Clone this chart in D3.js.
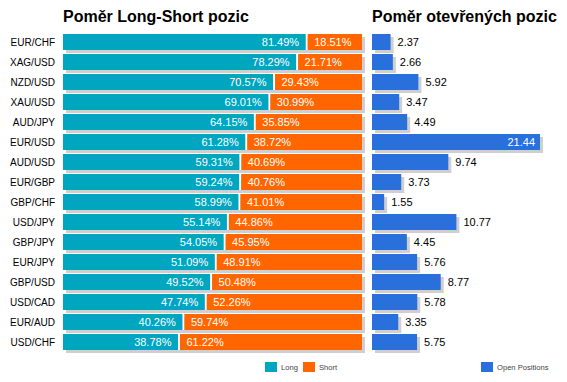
<!DOCTYPE html>
<html><head><meta charset="utf-8">
<script src="https://cdn.jsdelivr.net/npm/d3@7"></script>
<style>html,body{margin:0;padding:0;background:#fff;}svg{display:block;font-family:"Liberation Sans",Arial,sans-serif;}</style>
</head><body>
<script>
const categories = ["EUR/CHF","XAG/USD","NZD/USD","XAU/USD","AUD/JPY","EUR/USD","AUD/USD","EUR/GBP","GBP/CHF","USD/JPY","GBP/JPY","EUR/JPY","GBP/USD","USD/CAD","EUR/AUD","USD/CHF"];
const longValues = [81.49,78.29,70.57,69.01,64.15,61.28,59.31,59.24,58.99,55.14,54.05,51.09,49.52,47.74,40.26,38.78];
const shortValues = [18.51,21.71,29.43,30.99,35.85,38.72,40.69,40.76,41.01,44.86,45.95,48.91,50.48,52.26,59.74,61.22];
const openPositions = [2.37,2.66,5.92,3.47,4.49,21.44,9.74,3.73,1.55,10.77,4.45,5.76,8.77,5.78,3.35,5.75];
const titles = ["Poměr Long-Short pozic","Poměr otevřených pozic"];
const legendLabels = ["Long","Short","Open Positions"];

const W = 567, H = 382;
const C = {long:"#00A6BF", short:"#FF6600", open:"#2A70DC", shadow:"#CFCFCF"};
const svg = d3.select("body").append("svg").attr("width", W).attr("height", H);

const y = d3.scaleBand().domain(categories).range([32, 352]).paddingInner(0.2).paddingOuter(0.1);
const x1 = d3.scaleLinear().domain([0, 100]).range([63, 362]);
const x2 = d3.scaleLinear().domain([0, d3.max(openPositions)]).range([372, 540]);
const bh = y.bandwidth();
const sdx = 3, sdy = 3;

// titles
svg.append("text").attr("x", x1(0)).attr("y", 22).attr("font-size", 16).attr("font-weight", "bold").attr("fill", "#000").text(titles[0]);
svg.append("text").attr("x", x2(0)).attr("y", 22).attr("font-size", 16).attr("font-weight", "bold").attr("fill", "#000").text(titles[1]);

const rows = categories.map((c, i) => ({c, l: longValues[i], s: shortValues[i], o: openPositions[i]}));

// category labels
svg.append("g").selectAll("text").data(rows).join("text")
  .attr("x", 55).attr("y", d => y(d.c) + bh / 2).attr("dy", "0.36em")
  .attr("text-anchor", "end").attr("font-size", 10).attr("fill", "#000")
  .text(d => d.c);

// left chart
const gL = svg.append("g");
gL.selectAll("rect.sh").data(rows).join("rect").attr("class", "sh")
  .attr("x", x1(0) + sdx).attr("y", d => y(d.c) + sdy)
  .attr("width", d => x1(d.l + d.s) - x1(0)).attr("height", bh).attr("fill", C.shadow);
gL.selectAll("rect.gap").data(rows).join("rect").attr("class", "gap")
  .attr("x", d => x1(d.l) - 1).attr("y", d => y(d.c))
  .attr("width", 2).attr("height", bh).attr("fill", "#fff");
gL.selectAll("rect.lg").data(rows).join("rect").attr("class", "lg")
  .attr("x", x1(0)).attr("y", d => y(d.c))
  .attr("width", d => x1(d.l) - x1(0) - 1).attr("height", bh).attr("fill", C.long);
gL.selectAll("rect.st").data(rows).join("rect").attr("class", "st")
  .attr("x", d => x1(d.l) + 1).attr("y", d => y(d.c))
  .attr("width", d => x1(d.l + d.s) - x1(d.l) - 1).attr("height", bh).attr("fill", C.short);
gL.selectAll("text.lt").data(rows).join("text").attr("class", "lt")
  .attr("x", d => x1(d.l) - 7.5).attr("y", d => y(d.c) + bh / 2).attr("dy", "0.36em")
  .attr("text-anchor", "end").attr("font-size", 11).attr("fill", "#fff")
  .text(d => d.l.toFixed(2) + "%");
gL.selectAll("text.stt").data(rows).join("text").attr("class", "stt")
  .attr("x", d => x1(d.l) + 7.5).attr("y", d => y(d.c) + bh / 2).attr("dy", "0.36em")
  .attr("text-anchor", "start").attr("font-size", 11).attr("fill", "#fff")
  .text(d => d.s.toFixed(2) + "%");

// right chart
const gR = svg.append("g");
const maxO = d3.max(openPositions);
gR.selectAll("rect.sh").data(rows).join("rect").attr("class", "sh")
  .attr("x", x2(0) + sdx).attr("y", d => y(d.c) + sdy)
  .attr("width", d => x2(d.o) - x2(0)).attr("height", bh).attr("fill", C.shadow);
gR.selectAll("rect.op").data(rows).join("rect").attr("class", "op")
  .attr("x", x2(0)).attr("y", d => y(d.c))
  .attr("width", d => x2(d.o) - x2(0)).attr("height", bh).attr("fill", C.open);
gR.selectAll("text.ot").data(rows).join("text").attr("class", "ot")
  .attr("x", d => d.o === maxO ? x2(d.o) - 5 : x2(d.o) + 7)
  .attr("y", d => y(d.c) + bh / 2).attr("dy", "0.36em")
  .attr("text-anchor", d => d.o === maxO ? "end" : "start")
  .attr("font-size", 11).attr("fill", d => d.o === maxO ? "#fff" : "#000")
  .text(d => d.o.toFixed(2));

// legend
const legend = [
  {label: legendLabels[0], color: C.long, x: 265},
  {label: legendLabels[1], color: C.short, x: 303},
  {label: legendLabels[2], color: C.open, x: 481}
];
const lg = svg.append("g").selectAll("g").data(legend).join("g");
lg.append("rect").attr("x", d => d.x).attr("y", 362).attr("width", 12).attr("height", 10).attr("fill", d => d.color);
lg.append("text").attr("x", d => d.x + 16).attr("y", 367).attr("dy", "0.35em")
  .attr("font-size", 7.6).attr("fill", "#444").text(d => d.label);
</script>
</body></html>
